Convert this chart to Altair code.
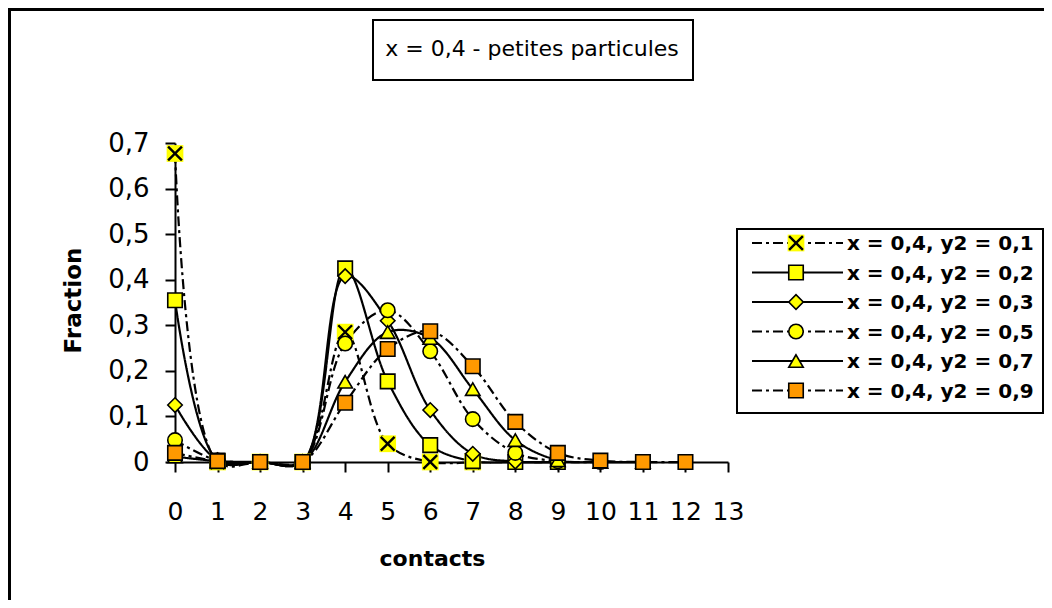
import altair as alt
import pandas as pd

# ---------------- data ----------------
series_names = [
    "x = 0,4, y2 = 0,1",
    "x = 0,4, y2 = 0,2",
    "x = 0,4, y2 = 0,3",
    "x = 0,4, y2 = 0,5",
    "x = 0,4, y2 = 0,7",
    "x = 0,4, y2 = 0,9",
]
y2_01 = [0.677, 0.0, 0.0, 0.0, 0.285, 0.04, 0.0, 0.0]
y2_02 = [0.355, 0.003, 0.0, 0.0, 0.425, 0.177, 0.037, 0.002, 0.0, 0.0]
y2_03 = [0.125, 0.004, 0.0, 0.0, 0.408, 0.31, 0.114, 0.018, 0.001, 0.0]
y2_05 = [0.048, 0.003, 0.0, 0.0, 0.26, 0.333, 0.243, 0.094, 0.02, 0.002, 0.0]
y2_07 = [0.012, 0.002, 0.0, 0.0, 0.176, 0.285, 0.272, 0.16, 0.048, 0.004, 0.0, 0.0]
y2_09 = [0.02, 0.002, 0.0, 0.0, 0.13, 0.248, 0.287, 0.21, 0.088, 0.02, 0.003, 0.0, 0.0]
all_values = [y2_01, y2_02, y2_03, y2_05, y2_07, y2_09]
x_ticks = list(range(0, 14))
y_ticks = [0, 0.1, 0.2, 0.3, 0.4, 0.5, 0.6, 0.7]

title_text = "x = 0,4 - petites particules"
x_title = "contacts"
y_title = "Fraction"

YELLOW = "#FFFF00"
ORANGE = "#FF9900"
fills = [YELLOW, YELLOW, YELLOW, YELLOW, YELLOW, ORANGE]
shapes = ["square", "square", "diamond", "circle", "triangle-up", "square"]
DASHDOT = [10, 4, 3, 4]
SOLID = [1, 0]
dashes = [DASHDOT, SOLID, SOLID, DASHDOT, SOLID, DASHDOT]
X_PATH = "M-1,-1L1,1M-1,1L1,-1"

rows = []
for name, vals in zip(series_names, all_values):
    for i, v in enumerate(vals):
        rows.append({"series": name, "contacts": i, "fraction": v})
df = pd.DataFrame(rows)

FONT = "DejaVu Sans"
W, H = 553, 319

xs = alt.X("contacts:Q", scale=alt.Scale(domain=[0, 13], nice=False, zero=False),
           axis=alt.Axis(values=x_ticks, title=x_title, labelFontSize=25, labelFont=FONT,
                         labelPadding=27, tickSize=10, tickWidth=2, tickColor="black",
                         domainColor="black", domainWidth=2, grid=False, labelColor="black",
                         titleFont=FONT, titleFontSize=22, titleFontWeight="bold",
                         titleX=257, titleY=96, titleBaseline="middle", titleAlign="center",
                         labelFlush=False, labelOverlap=False))
ys = alt.Y("fraction:Q", scale=alt.Scale(domain=[0, 0.7], nice=False),
           axis=alt.Axis(values=y_ticks, title=y_title, labelFontSize=26, labelFont=FONT,
                         labelPadding=16, tickSize=10, tickWidth=2, tickColor="black",
                         domainColor="black", domainWidth=2, grid=False, labelColor="black",
                         labelExpr="replace(format(datum.value, '.1~f'), '.', ',')",
                         titleFont=FONT, titleFontSize=23, titleFontWeight="bold",
                         titleX=-102, titleY=157, titleAngle=-90, titleBaseline="middle",
                         titleAlign="center", labelFlush=False, labelOverlap=False))

dash_enc = alt.StrokeDash("series:N", scale=alt.Scale(domain=series_names, range=dashes), legend=None)
fill_enc = alt.Fill("series:N", scale=alt.Scale(domain=series_names, range=fills), legend=None)
shape_enc = alt.Shape("series:N", scale=alt.Scale(domain=series_names, range=shapes), legend=None)

base = alt.Chart(df)
lines = base.mark_line(interpolate="catmull-rom", color="black", strokeWidth=2.2).encode(
    x=xs, y=ys, strokeDash=dash_enc, detail="series:N")

first = df[df.series == series_names[0]]
others = df[df.series != series_names[0]]
x_bg = alt.Chart(first).mark_point(shape="square", size=280, filled=True, fill=YELLOW,
                                   opacity=1, strokeWidth=0).encode(x="contacts:Q", y="fraction:Q")
x_mark = alt.Chart(first).mark_point(shape=X_PATH, size=190, stroke="black", strokeWidth=2.4,
                                     opacity=1, fill=None).encode(x="contacts:Q", y="fraction:Q")
marks = alt.Chart(others).mark_point(size=210, stroke="black", strokeWidth=1.6,
                                     opacity=1, fillOpacity=1).encode(
    x="contacts:Q", y="fraction:Q", fill=fill_enc, shape=shape_enc)

one = pd.DataFrame({"k": [0]})

# outer frame (top and left edges)
frame_top = alt.Chart(one).mark_rule(color="black", strokeWidth=3).encode(
    x=alt.value(-170), x2=alt.value(W + 320), y=alt.value(-133.5))
frame_left = alt.Chart(one).mark_rule(color="black", strokeWidth=3).encode(
    x=alt.value(-165.5), y=alt.value(-136), y2=alt.value(H + 140))

# title box
title_box = alt.Chart(one).mark_rect(fill="white", stroke="black", strokeWidth=2).encode(
    x=alt.value(198), x2=alt.value(518), y=alt.value(-123), y2=alt.value(-63))
title_lbl = alt.Chart(pd.DataFrame({"t": [title_text]})).mark_text(
    font=FONT, fontSize=22, color="black", align="center", baseline="middle").encode(
    x=alt.value(357), y=alt.value(-94), text="t:N")

# legend
legend_layers = [alt.Chart(one).mark_rect(fill="white", stroke="black", strokeWidth=2).encode(
    x=alt.value(562), x2=alt.value(868), y=alt.value(86), y2=alt.value(270))]
row_y = [100, 129.5, 159, 188.5, 218, 247.5]
for i, name in enumerate(series_names):
    ry = row_y[i]
    legend_layers.append(alt.Chart(one).mark_rule(color="black", strokeWidth=2.2, strokeDash=dashes[i]).encode(
        x=alt.value(577), x2=alt.value(668), y=alt.value(ry)))
    if i == 0:
        legend_layers.append(alt.Chart(one).mark_point(shape="square", size=280, filled=True, fill=YELLOW,
                                                       opacity=1, strokeWidth=0).encode(
            x=alt.value(621), y=alt.value(ry)))
        legend_layers.append(alt.Chart(one).mark_point(shape=X_PATH, size=190, stroke="black", strokeWidth=2.4,
                                                       opacity=1).encode(
            x=alt.value(621), y=alt.value(ry)))
    else:
        legend_layers.append(alt.Chart(one).mark_point(shape=shapes[i], size=210, fill=fills[i], filled=True,
                                                       stroke="black", strokeWidth=1.6, opacity=1).encode(
            x=alt.value(621), y=alt.value(ry)))
    legend_layers.append(alt.Chart(pd.DataFrame({"label": [name]})).mark_text(
        font=FONT, fontSize=20, fontWeight="bold", color="black", align="left", baseline="middle").encode(
        x=alt.value(672), y=alt.value(ry + 1), text="label:N"))

chart = alt.layer(frame_top, frame_left, lines, x_bg, x_mark, marks, title_box, title_lbl,
                  *legend_layers).properties(
    width=W, height=H,
    padding={"left": 167, "top": 135, "right": 316, "bottom": 138},
    autosize=alt.AutoSizeParams(type="none"),
    background="white",
).configure_view(stroke=None)

chart.save("out.html", embed_options={"renderer": "svg", "actions": False})
